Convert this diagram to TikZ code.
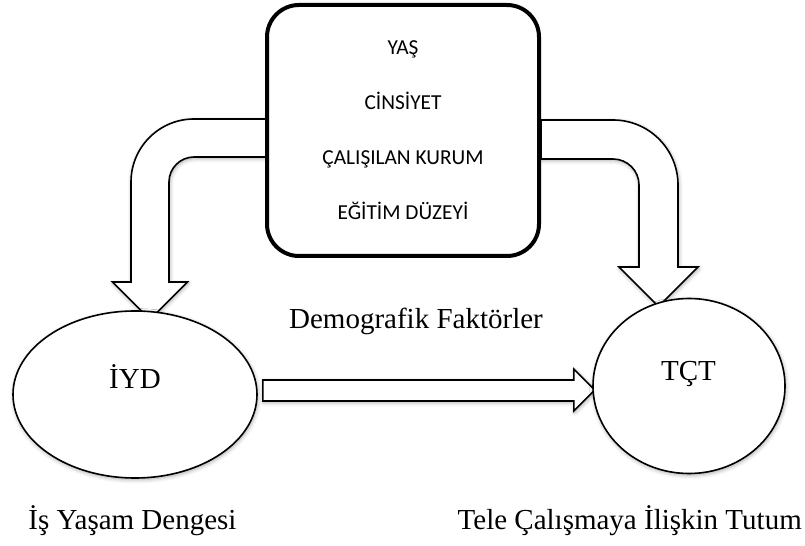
\documentclass[tikz,border=0pt]{standalone}
\usepackage{fontspec}
\setmainfont{Liberation Serif}
\newfontfamily\calibri{Carlito}
\usetikzlibrary{shapes.geometric,calc,backgrounds,shadows.blur}

\begin{document}
\begin{tikzpicture}[
  x=0.75pt,y=0.75pt,
  softshadow/.style={blur shadow={shadow xshift=0.6pt,shadow yshift=-1.2pt,shadow blur radius=3pt,shadow opacity=35}},
  factorbox/.style={draw,line width=3pt,rounded corners=24pt,fill=white,minimum width=204pt,minimum height=188.25pt,align=center,font=\calibri\fontsize{16}{41.25}\selectfont},
  oval/.style={ellipse,draw,line width=1.2pt,fill=white,inner sep=0pt,softshadow},
  blockarrow/.style={draw,line width=1.2pt,fill=white,line join=miter,softshadow},
  lbl/.style={font=\fontsize{21.75}{26}\selectfont,inner sep=0pt,anchor=base}
]
\useasboundingbox (0,0) rectangle (805,545);

\node[factorbox] (factors) at (403,414.5) {YAŞ\\CİNSİYET\\ÇALIŞILAN KURUM\\EĞİTİM DÜZEYİ};
\node[oval,minimum width=183pt,minimum height=125.25pt] (iyd) at (135,150.5) {};
\node[oval,minimum width=144pt,minimum height=131.25pt] (tct) at (689,159) {};

\node[lbl] (iydlabel) at ($(iyd.center)+(0,5.5)$) {İYD};
\node[lbl] (tctlabel) at ($(tct.center)+(-0.5,5)$) {TÇT};
\node[lbl] (demo) at (416,216) {Demografik Faktörler};
\node[lbl] (iydname) at (132.5,15) {İş Yaşam Dengesi};
\node[lbl,anchor=base east] (tctname) at (802,15) {Tele Çalışmaya İlişkin Tutum};

\begin{pgfonlayer}{background}
% bent arrow to the left oval
\draw[blockarrow] ($(factors.west)+(1,11.5)$) -- ++(-72,0)
  arc[start angle=90,end angle=180,radius=63] -- ++(0,-100) -- ++(-18.5,0)
  -- ++(37.5,-37.5) -- ++(37.5,37.5) -- ++(-18.5,0) -- ++(0,100)
  arc[start angle=180,end angle=90,radius=25] -- ++(72,0) -- cycle;
% bent arrow to the right oval
\draw[blockarrow] ($(factors.east)+(0,10.5)$) -- ++(72,0)
  arc[start angle=90,end angle=0,radius=65] -- ++(0,-82) -- ++(20,0)
  -- ++(-39.5,-39.5) -- ++(-39.5,39.5) -- ++(20,0) -- ++(0,82)
  arc[start angle=0,end angle=90,radius=26] -- ++(-72,0) -- cycle;
% straight arrow
\draw[blockarrow] ($(iyd.east)+(5,14.5)$) -- ++(311,0) -- ++(0,11)
  -- ++(21,-21) -- ++(-21,-21) -- ++(0,10) -- ++(-311,0) -- cycle;
\end{pgfonlayer}
\end{tikzpicture}
\end{document}
